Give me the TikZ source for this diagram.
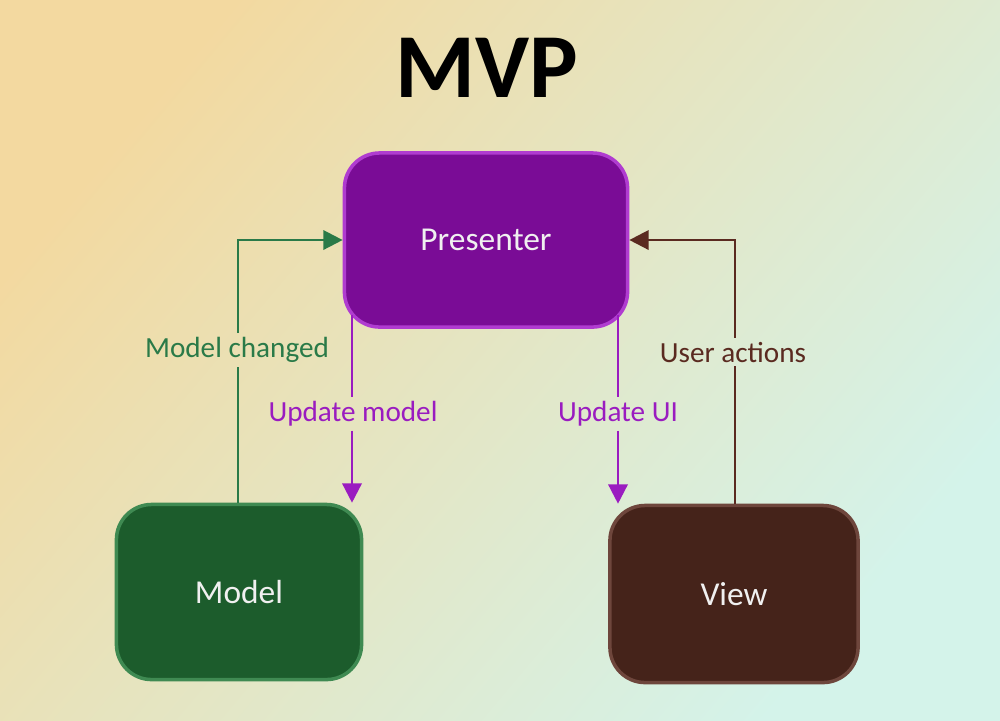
\documentclass[tikz,border=0pt]{standalone}
\usepackage{fontspec}
\setmainfont{Carlito}
\usepackage{tikz}
\usetikzlibrary{arrows.meta}

\definecolor{bgtl}{HTML}{F3D9A0}
\definecolor{bgbr}{HTML}{D4F3EA}
\definecolor{presfill}{HTML}{7A0C96}
\definecolor{presline}{HTML}{B03CD0}
\definecolor{modfill}{HTML}{1C5C2C}
\definecolor{modline}{HTML}{3F8A52}
\definecolor{viewfill}{HTML}{45231A}
\definecolor{viewline}{HTML}{6E463C}
\definecolor{updcol}{HTML}{9A1CC0}
\definecolor{chgcol}{HTML}{2A7A48}
\definecolor{actcol}{HTML}{5A2A20}

\tikzset{
  box/.style={draw, line width=1pt, rounded corners=10pt, text=white!88!gray,
    font=\fontsize{9.5}{10}\selectfont},
  link/.style={line width=0.7pt, -{Triangle[length=5.5pt, width=5.5pt]}},
  lbl/.style={font=\fontsize{8.3}{9}\selectfont, inner sep=1pt}
}

\begin{document}
\begin{tikzpicture}[x=0.01cm, y=-0.01cm]
    % background
    \shade[top color=bgtl, bottom color=bgbr, shading angle=50]
        (0,0) rectangle (1000,720);
    \useasboundingbox (0,0) rectangle (1000,720);

    \node[font=\fontsize{26}{28}\selectfont\bfseries] (title) at (487,68) {MVP};

    % boxes
    \node[box, fill=presfill, draw=presline, minimum width=2.83cm, minimum height=1.74cm] (pres) at (486,240) {Presenter};
    \node[box, fill=modfill, draw=modline, minimum width=2.45cm, minimum height=1.75cm] (model) at (239,592) {Model};
    \node[box, fill=viewfill, draw=viewline, minimum width=2.48cm, minimum height=1.77cm] (view) at (734,594) {View};

    % labels
    \node[lbl, text=chgcol] (lmc) at (237,350) {Model changed};
    \node[lbl, text=updcol] (lum) at (353,414) {Update model};
    \node[lbl, text=updcol] (lui) at (618,414) {Update UI};
    \node[lbl, text=actcol] (lua) at (733,352) {User actions};

    % connectors
    \coordinate (mc) at (238,240);
    \coordinate (ua) at (735,240);
    \coordinate (um) at (352,0);
    \coordinate (ui) at (618,0);
    \draw[line width=0.7pt, chgcol] (model.north -| mc) -- (lmc.south -| mc);
    \draw[link, chgcol] (lmc.north -| mc) -- (mc) -- (pres.west |- mc);
    \draw[line width=0.7pt, actcol] (view.north -| ua) -- (lua.south -| ua);
    \draw[link, actcol] (lua.north -| ua) -- (ua) -- (pres.east |- ua);
    \draw[line width=0.7pt, updcol] ([yshift=4pt]pres.south -| um) -- (lum.north -| um);
    \draw[link, updcol] (lum.south -| um) -- (model.north -| um);
    \draw[line width=0.7pt, updcol] ([yshift=4pt]pres.south -| ui) -- (lui.north -| ui);
    \draw[link, updcol] (lui.south -| ui) -- (view.north -| ui);
\end{tikzpicture}
\end{document}
